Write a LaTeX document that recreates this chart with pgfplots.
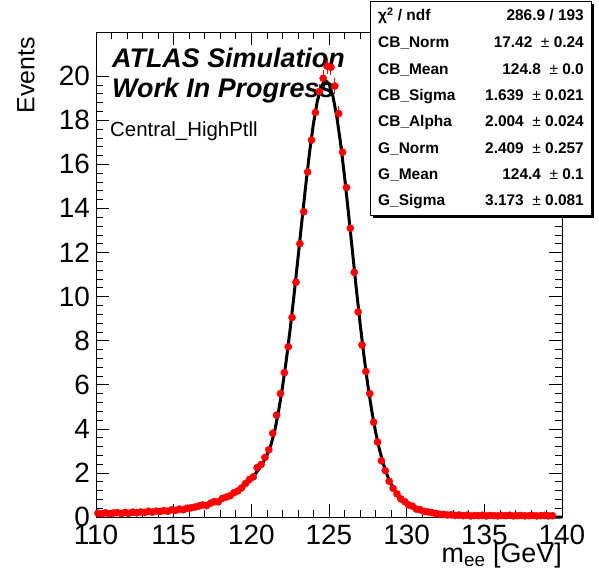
\documentclass[border=0pt]{standalone}
\usepackage{fontspec}
\setmainfont{Liberation Sans}
\usepackage{pgfplots}
\pgfplotsset{compat=1.18}
\usepackage{pgfplotstable}

% binned MC (0.25 GeV bins)
\pgfplotstableread{
x y
110.125 0.17
110.375 0.14
110.625 0.19
110.875 0.15
111.125 0.18
111.375 0.20
111.625 0.16
111.875 0.21
112.125 0.17
112.375 0.22
112.625 0.19
112.875 0.23
113.125 0.20
113.375 0.26
113.625 0.22
113.875 0.27
114.125 0.25
114.375 0.29
114.625 0.26
114.875 0.33
115.125 0.30
115.375 0.36
115.625 0.33
115.875 0.40
116.125 0.42
116.375 0.45
116.625 0.50
116.875 0.55
117.125 0.52
117.375 0.63
117.625 0.70
117.875 0.69
118.125 0.84
118.375 0.90
118.625 0.96
118.875 1.10
119.125 1.18
119.375 1.32
119.625 1.52
119.875 1.70
120.125 1.82
120.375 2.24
120.625 2.38
120.875 2.70
121.125 3.05
121.375 3.80
121.625 4.62
121.875 5.60
122.125 6.55
122.375 7.72
122.625 9.05
122.875 10.65
123.125 12.40
123.375 13.85
123.625 15.65
123.875 17.10
124.125 18.35
124.375 19.30
124.625 19.90
124.875 20.45
125.125 20.40
125.375 19.55
125.625 18.30
125.875 16.55
126.125 14.95
126.375 13.10
126.625 11.10
126.875 9.30
127.125 7.80
127.375 6.60
127.625 5.60
127.875 4.30
128.125 3.40
128.375 2.55
128.625 2.10
128.875 1.62
129.125 1.30
129.375 1.05
129.625 0.82
129.875 0.70
130.125 0.55
130.375 0.49
130.625 0.36
130.875 0.33
131.125 0.25
131.375 0.23
131.625 0.20
131.875 0.15
132.125 0.13
132.375 0.12
132.625 0.09
132.875 0.10
133.125 0.07
133.375 0.09
133.625 0.06
133.875 0.08
134.125 0.05
134.375 0.07
134.625 0.06
134.875 0.08
135.125 0.05
135.375 0.07
135.625 0.06
135.875 0.05
136.125 0.07
136.375 0.06
136.625 0.08
136.875 0.05
137.125 0.06
137.375 0.07
137.625 0.05
137.875 0.06
138.125 0.07
138.375 0.05
138.625 0.06
138.875 0.07
139.125 0.05
139.375 0.06
}\mctable

% fitted CB + Gaussian
\pgfplotstableread{
x y
110 0.156
110.5 0.162
111 0.169
111.5 0.177
112 0.187
112.5 0.197
113 0.210
113.5 0.224
114 0.241
114.5 0.264
115 0.292
115.5 0.328
116 0.376
116.5 0.438
117 0.519
117.5 0.623
118 0.759
118.5 0.929
119 1.142
119.5 1.408
120 1.743
120.5 2.179
120.75 2.455
121 2.797
121.25 3.244
121.5 3.887
121.75 4.783
122 5.860
122.25 7.108
122.5 8.522
122.75 10.072
123 11.718
123.25 13.394
123.5 15.032
123.75 16.548
124 17.854
124.25 18.873
124.5 19.539
124.75 19.806
125 19.657
125.25 19.099
125.5 18.170
125.75 16.928
126 15.446
126.25 13.811
126.5 12.108
126.75 10.414
127 8.798
127.25 7.310
127.5 5.979
127.75 4.828
128 3.856
128.25 3.055
128.5 2.408
128.75 1.896
129 1.495
129.25 1.186
129.5 0.947
129.75 0.763
130 0.622
130.5 0.421
131 0.291
131.5 0.201
132 0.137
132.5 0.093
133 0.061
133.5 0.039
134 0.025
135 0.009
136 0.003
137 0.001
140 0.000
}\fittable

\begin{document}
\begin{tikzpicture}
\begin{axis}[
  scale only axis,
  width=466bp, height=485bp,
  xmin=110, xmax=140, ymin=0, ymax=22,
  xtick={110,115,...,140},
  ytick={0,2,...,20},
  minor x tick num=4, minor y tick num=4,
  tick align=inside,
  major tick length=13bp, minor tick length=7bp,
  every tick/.style={black, line width=0.6bp},
  axis line style={line width=0.8bp},
  tick label style={font=\fontsize{28}{32}\selectfont},
  /pgf/number format/assume math mode=true,
  xticklabel style={inner sep=0pt, yshift=-8bp},
  yticklabel style={inner sep=0pt, xshift=-6bp},
  xlabel={m\textsubscript{ee} [GeV]},
  xlabel style={at={(rel axis cs:1,-0.0948)}, anchor=base east, inner sep=0pt, font=\fontsize{27}{30}\selectfont},
  ylabel={Events},
  ylabel style={at={(rel axis cs:-0.1695,0.9897)}, anchor=north east, inner sep=0pt, font=\fontsize{25}{28}\selectfont},
  clip=false,
]
\path (rel axis cs:-0.206,-0.1196) rectangle (rel axis cs:1.0794,1.066);

\addplot[only marks, mark=*, mark size=3.6bp, color=red,
  error bars/.cd, y dir=both, y fixed relative=0.018,
  error bar style={red, line width=1bp}, error mark=none]
  table[x=x, y=y] {\mctable};

\addplot[black, line width=3bp] table[x=x, y=y] {\fittable};

\node[anchor=base west, inner sep=0pt, font=\fontsize{27}{30}\selectfont\bfseries\itshape]
  at (axis cs:111.03,20.37) {ATLAS Simulation};
\node[anchor=base west, inner sep=0pt, font=\fontsize{27}{30}\selectfont\bfseries\itshape]
  at (axis cs:111.03,19.05) {Work In Progress};
\node[anchor=base west, inner sep=0pt, font=\fontsize{20.5}{24}\selectfont]
  at (axis cs:110.9,17.28) {Central\_HighPtll};

% stats box
\fill[black] (axis cs:127.83,13.56) rectangle (axis cs:142.06,23.27);
\filldraw[fill=white, draw=black, line width=0.8bp] (axis cs:127.64,13.70) rectangle (axis cs:141.87,23.41);
\begin{scope}[every node/.style={inner sep=0pt, font=\fontsize{15.5}{18}\selectfont\bfseries}]
\node[anchor=mid west] at (axis cs:128.155,22.640) {χ\textsuperscript{2} / ndf};
\node[anchor=mid east] at (axis cs:141.417,22.640) {286.9 / 193};
\node[anchor=mid west] at (axis cs:128.155,21.400) {CB\_Norm};
\node[anchor=mid east] at (axis cs:141.417,21.400) {17.42 \ {\mdseries ±} 0.24};
\node[anchor=mid west] at (axis cs:128.155,20.200) {CB\_Mean};
\node[anchor=mid east] at (axis cs:141.417,20.200) {124.8 \ {\mdseries ±} 0.0};
\node[anchor=mid west] at (axis cs:128.155,19.010) {CB\_Sigma};
\node[anchor=mid east] at (axis cs:141.417,19.010) {1.639 \ {\mdseries ±} 0.021};
\node[anchor=mid west] at (axis cs:128.155,17.820) {CB\_Alpha};
\node[anchor=mid east] at (axis cs:141.417,17.820) {2.004 \ {\mdseries ±} 0.024};
\node[anchor=mid west] at (axis cs:128.155,16.630) {G\_Norm};
\node[anchor=mid east] at (axis cs:141.417,16.630) {2.409 \ {\mdseries ±} 0.257};
\node[anchor=mid west] at (axis cs:128.155,15.440) {G\_Mean};
\node[anchor=mid east] at (axis cs:141.417,15.440) {124.4 \ {\mdseries ±} 0.1};
\node[anchor=mid west] at (axis cs:128.155,14.240) {G\_Sigma};
\node[anchor=mid east] at (axis cs:141.417,14.240) {3.173 \ {\mdseries ±} 0.081};
\end{scope}
\end{axis}
\end{tikzpicture}
\end{document}
